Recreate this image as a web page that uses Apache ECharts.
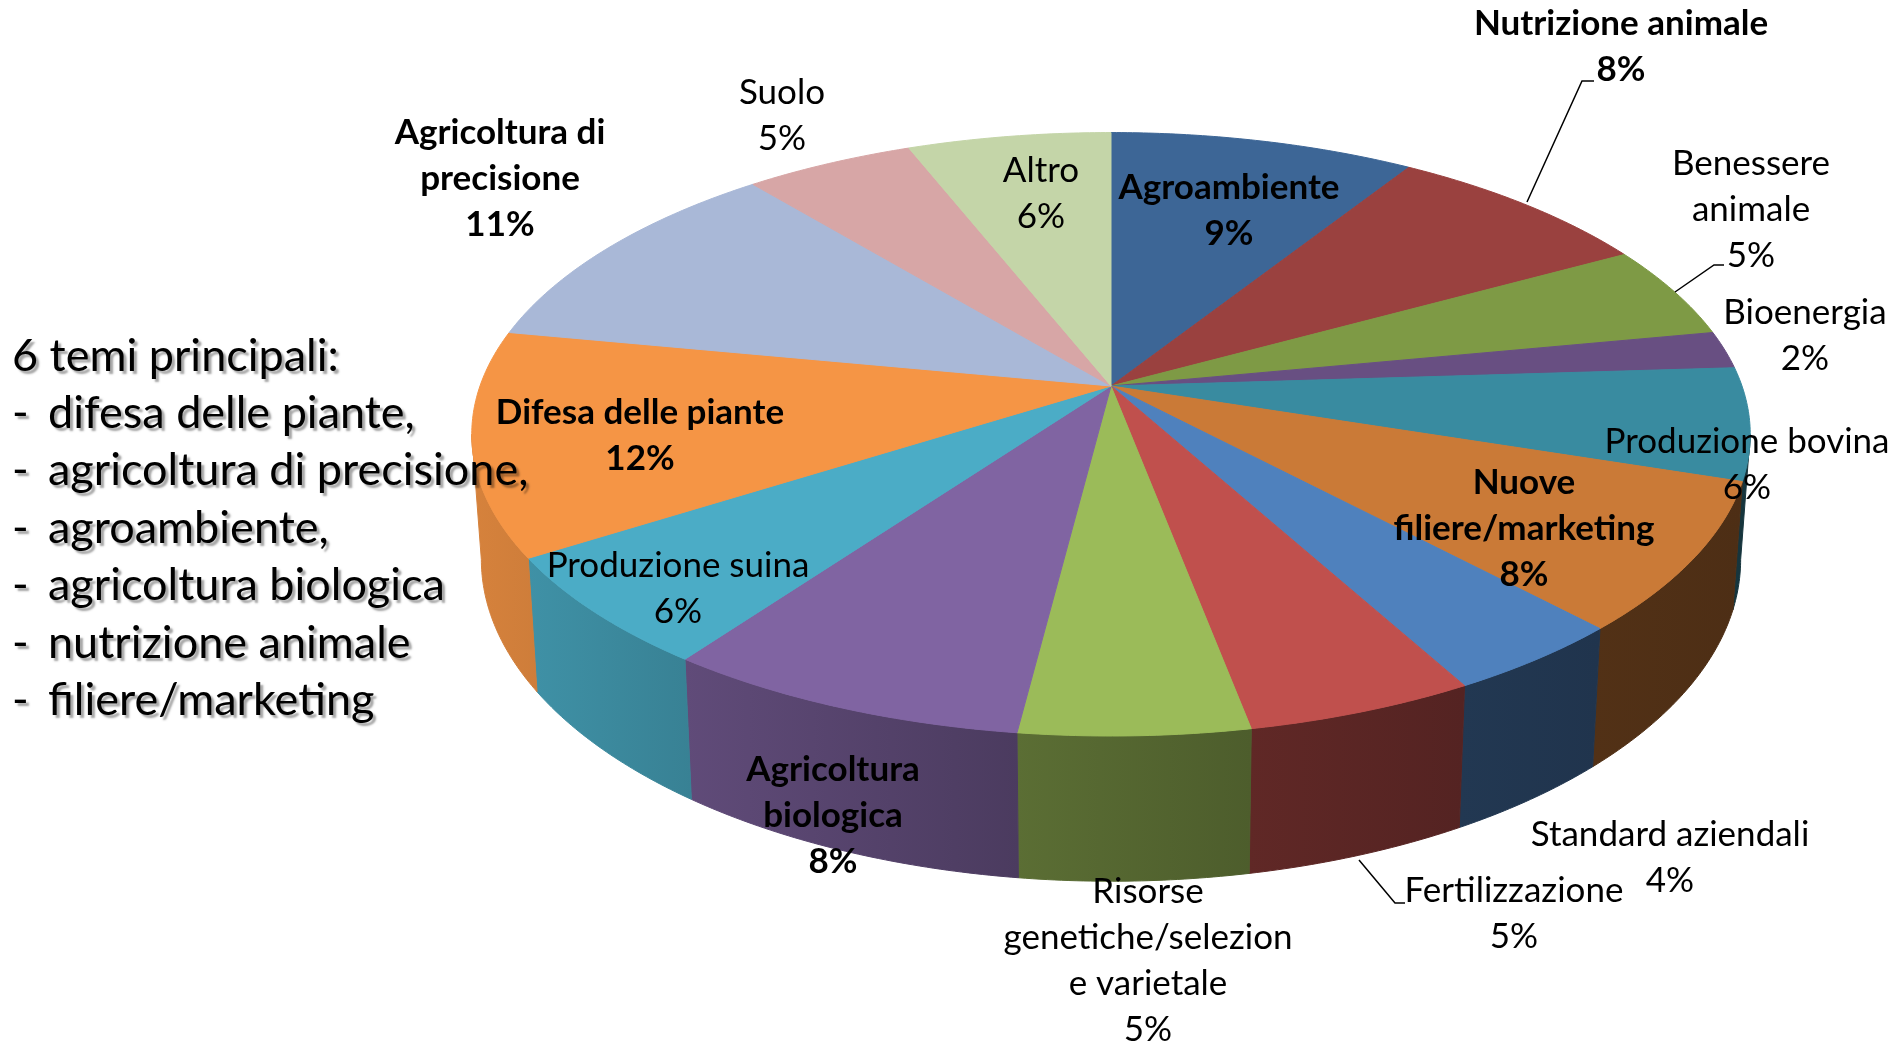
<!DOCTYPE html>
<html>
<head>
<meta charset="utf-8">
<title>Temi principali</title>
<script src="https://cdn.jsdelivr.net/npm/echarts@6/dist/echarts.min.js"></script>
<style>
html,body{margin:0;padding:0;background:#fff;}
#main{width:1893px;height:1041px;}
</style>
</head>
<body>
<div id="main"></div>
<script>
// dati del grafico (percentuali), in senso orario dalle ore 12
const categories = ['Agroambiente','Nutrizione animale','Benessere animale','Bioenergia','Produzione bovina',
    'Nuove filiere/marketing','Standard aziendali','Fertilizzazione','Risorse genetiche/selezione varietale',
    'Agricoltura biologica','Produzione suina','Difesa delle piante','Agricoltura di precisione','Suolo','Altro'];
const values = [9,8,5,2,6,8,4,5,5,8,6,12,11,5,6];
// etichette come stampate nel grafico (a capo come nell'originale)
const labelLines = [['Agroambiente'],['Nutrizione animale'],['Benessere','animale'],['Bioenergia'],['Produzione bovina'],
    ['Nuove','filiere/marketing'],['Standard aziendali'],['Fertilizzazione'],['Risorse','genetiche/selezion','e varietale'],
    ['Agricoltura','biologica'],['Produzione suina'],['Difesa delle piante'],['Agricoltura di','precisione'],['Suolo'],['Altro']];
const boldLabels = [1,1,0,0,0,1,0,0,0,1,0,1,1,0,0];
const temiTitle = '6 temi principali:';
const temi = ['difesa delle piante,','agricoltura di precisione,','agroambiente,','agricoltura biologica','nutrizione animale','filiere/marketing'];

// colori delle fette
const colors = ['#3D6696','#9A413F','#7E9A45','#684F82','#398BA0','#CA7A37','#4F81BD','#C0504D','#9BBB59',
    '#8064A2','#4BACC6','#F59545','#A9B8D7','#D7A6A6','#C4D5A8'];
// posizione etichette [x centro, y prima riga]
const labelPos = [[1229,188],[1621,24],[1751,164],[1805,313],[1747,442],[1524,483],[1670,835],[1514,891],
    [1148,892],[833,770],[678,566],[640,413],[500,133],[782,93],[1041,171]];

const cx = 1111, cy = 386, A = 631, B = 294, K = 0.16, H = 122;
const FONT = 'Lato';
const total = values.reduce((a, b) => a + b, 0);
const starts = [];
let acc = 0;
for (let i = 0; i < values.length; i++) { starts.push(acc / total * Math.PI * 2); acc += values[i]; }
const thetaS = Math.acos(-K);

function proj(t, bottom) {
    const x = Math.sin(t), d = Math.cos(t), den = 1 + K * d;
    let sx = cx + A * x / den, sy = cy - B * d / den;
    if (bottom) { sy += H / den; sx = cx + (sx - cx) * 0.985; }
    return [sx, sy];
}
function shade(hex, f) {
    const n = parseInt(hex.slice(1), 16);
    const r = Math.round(((n >> 16) & 255) * f), g = Math.round(((n >> 8) & 255) * f), b = Math.round((n & 255) * f);
    return 'rgb(' + r + ',' + g + ',' + b + ')';
}
function wallFactor(xn) { return 0.55 - 0.245 * xn + 0.075 * xn * xn; }

function renderTop(params, api) {
    const i = params.dataIndex;
    const a0 = starts[i], a1 = a0 + api.value(1) / total * Math.PI * 2;
    const pts = [[cx, cy]];
    const n = Math.max(2, Math.ceil((a1 - a0) / 0.01));
    for (let s = 0; s <= n; s++) pts.push(proj(a0 + (a1 - a0) * s / n, false));
    return {type: 'polygon', shape: {points: pts}, style: {fill: colors[i], stroke: colors[i], lineWidth: 1}};
}
function renderWall(params, api) {
    const i = params.dataIndex;
    const a0 = Math.max(starts[i], thetaS);
    const a1 = Math.min(starts[i] + api.value(1) / total * Math.PI * 2, Math.PI * 2 - thetaS);
    if (a1 <= a0) return null;
    const n = Math.max(2, Math.ceil((a1 - a0) / 0.01));
    const top = [], bot = [];
    for (let s = 0; s <= n; s++) {
        const t = a0 + (a1 - a0) * s / n;
        top.push(proj(t, false));
        bot.push(proj(t, true));
    }
    const pts = top.concat(bot.reverse());
    const xl = Math.min(top[0][0], top[n][0]), xr = Math.max(top[0][0], top[n][0]);
    const grad = new echarts.graphic.LinearGradient(0, 0, 1, 0, [
        {offset: 0, color: shade(colors[i], wallFactor((xl - cx) / A))},
        {offset: 1, color: shade(colors[i], wallFactor((xr - cx) / A))}
    ]);
    return {type: 'polygon', shape: {points: pts}, style: {fill: grad, stroke: grad, lineWidth: 1}};
}

const graphics = [];
// etichette delle fette
for (let i = 0; i < categories.length; i++) {
    const pct = Math.round(values[i] / total * 100) + '%';
    graphics.push({
        type: 'text', x: labelPos[i][0], y: labelPos[i][1] - 23, z: 10, silent: true,
        style: {
            text: labelLines[i].concat([pct]).join('\n'),
            font: (boldLabels[i] ? 'bold ' : '') + '35px ' + FONT,
            lineHeight: 46, fill: '#000', align: 'center', verticalAlign: 'top'
        }
    });
}
// linee guida
[
    [[1527,202],[1582,81],[1594,81]],
    [[1675,292],[1714,265],[1724,265]],
    [[1359,860],[1395,903],[1405,903]]
].forEach(p => graphics.push({type: 'polyline', z: 10, silent: true, shape: {points: p}, style: {stroke: '#000', lineWidth: 1.5, fill: null}}));

// testo a sinistra
const shadow = {textShadowColor: 'rgba(0,0,0,0.35)', textShadowOffsetX: 3, textShadowOffsetY: 3, textShadowBlur: 2};
graphics.push({type: 'text', x: 12, y: 356, z: 10, silent: true,
    style: Object.assign({text: temiTitle, font: '45px ' + FONT, fill: '#000', verticalAlign: 'middle'}, shadow)});
temi.forEach((t, j) => {
    const y = 413 + j * 57.5;
    graphics.push({type: 'text', x: 12, y: y, z: 10, silent: true,
        style: Object.assign({text: '-', font: '45px ' + FONT, fill: '#000', verticalAlign: 'middle'}, shadow)});
    graphics.push({type: 'text', x: 48, y: y, z: 10, silent: true,
        style: Object.assign({text: t, font: '45px ' + FONT, fill: '#000', verticalAlign: 'middle'}, shadow)});
});

const chart = echarts.init(document.getElementById('main'));
const seriesData = values.map((v, i) => [i, v]);
chart.setOption({
    animation: false,
    backgroundColor: '#fff',
    graphic: graphics,
    series: [
        {type: 'custom', coordinateSystem: 'none', silent: true, z: 1, renderItem: renderWall, data: seriesData},
        {type: 'custom', coordinateSystem: 'none', silent: true, z: 2, renderItem: renderTop, data: seriesData}
    ]
});
</script>
</body>
</html>
